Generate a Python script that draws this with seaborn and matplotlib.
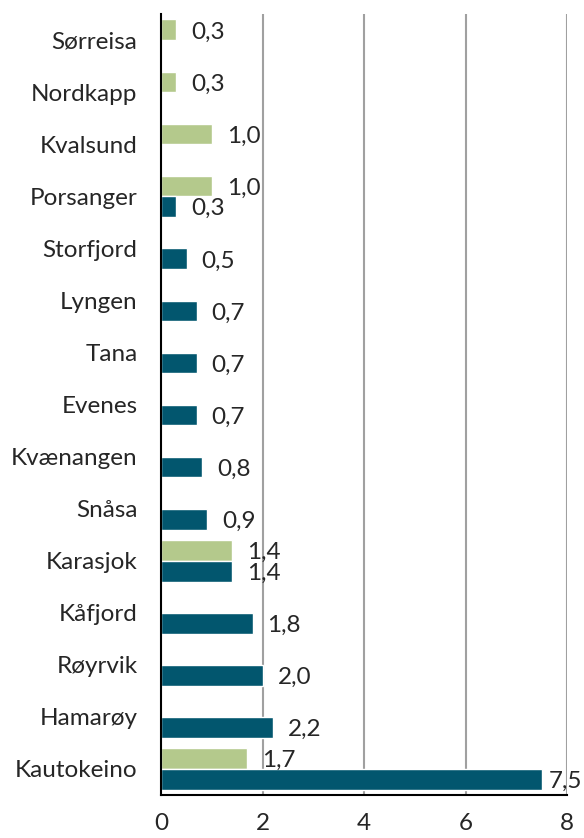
import matplotlib.pyplot as plt
import numpy as np
import pandas as pd
import seaborn as sns

# Data
kommuner = ["Sørreisa", "Nordkapp", "Kvalsund", "Porsanger", "Storfjord", "Lyngen",
            "Tana", "Evenes", "Kvænangen", "Snåsa", "Karasjok", "Kåfjord",
            "Røyrvik", "Hamarøy", "Kautokeino"]
serie_a = [0.3, 0.3, 1.0, 1.0, np.nan, np.nan, np.nan, np.nan, np.nan, np.nan,
           1.4, np.nan, np.nan, np.nan, 1.7]
serie_b = [np.nan, np.nan, np.nan, 0.3, 0.5, 0.7, 0.7, 0.7, 0.8, 0.9,
           1.4, 1.8, 2.0, 2.2, 7.5]
serier = ["A", "B"]
farger = ["#b4c98c", "#02566e"]
x_ticks = [0, 2, 4, 6, 8]

df = pd.DataFrame({"kommune": kommuner * 2,
                   "verdi": serie_a + serie_b,
                   "serie": [serier[0]] * len(kommuner) + [serier[1]] * len(kommuner)})

sns.set_style("white")
plt.rcParams["font.family"] = ["Lato", "DejaVu Sans"]
fs = 17.5

fig = plt.figure(figsize=(5.84, 8.38), dpi=100)
ax = fig.add_axes([0.276, 0.0513, 0.695, 0.9317])

sns.barplot(data=df, y="kommune", x="verdi", hue="serie", hue_order=serier,
            palette=farger, orient="h", width=0.8, saturation=1,
            legend=False, ax=ax, order=kommuner)

ax.set_xlim(0, 8)
ax.set_ylim(len(kommuner) - 0.5, -0.5)
ax.set_xticks(x_ticks)
ax.set_xticklabels([str(t) for t in x_ticks], fontsize=fs)
ax.set_yticks(range(len(kommuner)))
ax.set_yticklabels(kommuner, fontsize=fs)
ax.set_yticks(np.arange(-0.5, len(kommuner)), minor=True)
ax.tick_params(axis="y", which="major", length=0, pad=17)
ax.tick_params(axis="y", which="minor", length=6, width=1.5, color="black", direction="out")
ax.tick_params(axis="x", length=6, width=1.5, color="black", direction="out", pad=7)
ax.set_xlabel("")
ax.set_ylabel("")

for x in x_ticks[1:]:
    ax.axvline(x, color="#a0a0a0", linewidth=1.5, zorder=0)

for side in ["top", "right"]:
    ax.spines[side].set_visible(False)
for side in ["left", "bottom"]:
    ax.spines[side].set_color("black")
    ax.spines[side].set_linewidth(1.5)

# Verdietiketter
for cont in ax.containers:
    for bar in cont:
        w = bar.get_width()
        if np.isnan(w) or w == 0:
            continue
        pad = 15 if w < 7 else 7
        ax.annotate(f"{w:.1f}".replace(".", ","),
                    (w, bar.get_y() + bar.get_height() / 2),
                    xytext=(pad, -2), textcoords="offset pixels",
                    ha="left", va="center", fontsize=fs, annotation_clip=False)

fig.savefig("out.png", dpi=100)
